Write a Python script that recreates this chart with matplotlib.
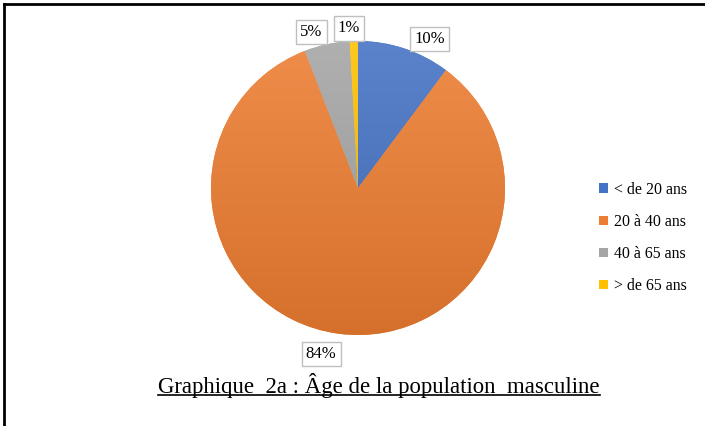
import matplotlib
matplotlib.use("Agg")
import matplotlib.pyplot as plt
from matplotlib.lines import Line2D
from matplotlib.colors import to_rgb
import numpy as np

plt.rcParams['font.family'] = ['Liberation Serif', 'DejaVu Serif']

categories = ['< de 20 ans', '20 à 40 ans', '40 à 65 ans', '> de 65 ans']
values = [10.2, 83.9, 5.0, 0.9]
pct_labels = ['10%', '84%', '5%', '1%']
colors = ['#4472C4', '#ED7D31', '#A5A5A5', '#FFC000']

W, H = 705, 426
fig = plt.figure(figsize=(W / 100, H / 100), dpi=100)

# pie centre and radius in pixels
cx, cy, r = 358, 188, 147
ax = fig.add_axes([(cx - r) / W, (H - cy - r) / H, 2 * r / W, 2 * r / H])
wedges, _ = ax.pie(values, colors=colors, startangle=90, counterclock=False,
                   radius=1, wedgeprops=dict(linewidth=0))
ax.set_xlim(-1, 1)
ax.set_ylim(-1, 1)
ax.set_aspect('equal')

# soft vertical gradient on each slice (lighter top, darker bottom)
t = np.linspace(0, 1, 256)[:, None]
for w, c in zip(wedges, colors):
    base = np.array(to_rgb(c))
    light = base + (1 - base) * 0.12
    dark = base * 0.9
    grad = (light[None, :] * (1 - t) + dark[None, :] * t)[:, None, :]
    im = ax.imshow(grad, extent=(-1, 1, -1, 1), origin='upper',
                   aspect='auto', zorder=w.get_zorder() + 0.1)
    im.set_clip_path(w)
ax.set_xlim(-1, 1)
ax.set_ylim(-1, 1)

# small shifts so the boxes sit like the original callouts
nudge = {0: (0.135, -0.048), 1: (-0.10, -0.02), 2: (-0.08, -0.034), 3: (-0.03, -0.034)}
for i, w in enumerate(wedges):
    mid = np.deg2rad((w.theta1 + w.theta2) / 2)
    x = 1.12 * np.cos(mid) + nudge[i][0]
    y = 1.12 * np.sin(mid) + nudge[i][1]
    ax.text(x, y, pct_labels[i], ha='center', va='center', fontsize=12, zorder=5,
            bbox=dict(boxstyle='square,pad=0.25', fc='white', ec='#BFBFBF', lw=1))

leg = fig.legend(wedges, categories, loc='center left',
                 bbox_to_anchor=(585 / W, 1 - 238 / H), frameon=False,
                 fontsize=11.4, handlelength=0.55, handleheight=0.55,
                 handletextpad=0.35, labelspacing=1.02)

title = fig.text(379 / W, 1 - 385 / H,
                 'Graphique  2a : Âge de la population  masculine',
                 ha='center', va='center', fontsize=16.4)

fig.canvas.draw()
bb = title.get_window_extent().transformed(fig.transFigure.inverted())
fig.add_artist(Line2D([bb.x0, bb.x1], [bb.y0 + 0.006, bb.y0 + 0.006],
                      color='black', lw=1.2, transform=fig.transFigure))

# frame lines at top and left
fig.add_artist(Line2D([4 / W, 1], [1 - 4 / H, 1 - 4 / H], color='black', lw=2,
                      transform=fig.transFigure))
fig.add_artist(Line2D([4 / W, 4 / W], [0, 1 - 4 / H], color='black', lw=2,
                      transform=fig.transFigure))

fig.savefig('out.png', dpi=100)
